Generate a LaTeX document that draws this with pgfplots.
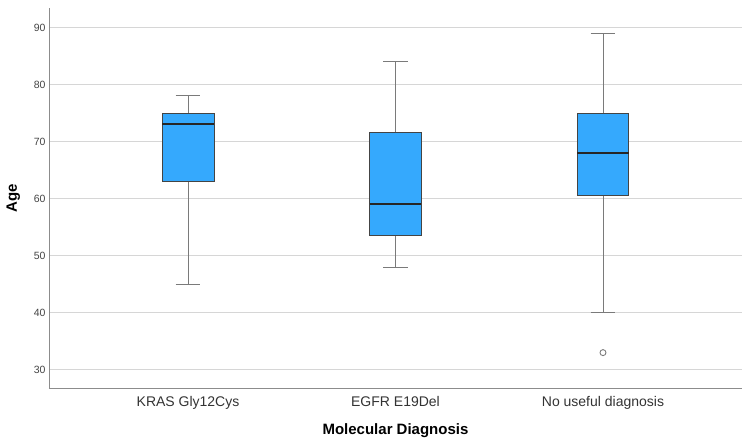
\documentclass[border=0pt]{standalone}
\usepackage{pgfplots}
\pgfplotsset{compat=1.18}
\usepgfplotslibrary{statistics}
\usepackage{fontspec}
\setmainfont{Liberation Sans}

\definecolor{boxblue}{HTML}{35A9FD}
\definecolor{boxedge}{HTML}{444444}
\definecolor{whiskgray}{HTML}{7A7A7A}
\definecolor{gridgray}{HTML}{D6D6D6}
\definecolor{axgray}{HTML}{8C8C8C}
\definecolor{ticktext}{HTML}{444444}

\begin{document}
\begin{tikzpicture}
\useasboundingbox (-49pt,-52pt) rectangle (701pt,388pt);
\begin{axis}[
  at={(0,0)}, anchor=south west,
  scale only axis,
  width=693pt, height=380pt,
  xmin=0.33, xmax=3.67,
  ymin=26.8, ymax=93.4,
  axis lines*=left,
  axis line style={-, draw=axgray, line width=0.9pt},
  xtick={1,2,3},
  xticklabels={KRAS Gly12Cys, EGFR E19Del, No useful diagnosis},
  ytick={30,40,50,60,70,80,90},
  major tick length=0pt,
  ymajorgrids,
  grid style={gridgray, line width=0.9pt},
  /pgf/number format/assume math mode=true,
  yticklabel style={font=\fontsize{10.5}{12}\selectfont, text=ticktext},
  xticklabel style={font=\fontsize{14}{16}\selectfont, text=black!80, yshift=-5pt},
  xlabel={\bfseries Molecular Diagnosis},
  ylabel={\bfseries Age},
  xlabel style={font=\fontsize{15}{17}\selectfont, at={(axis description cs:0.5,0)}, anchor=base, yshift=-46pt},
  ylabel style={font=\fontsize{15}{17}\selectfont, at={(axis description cs:0,0.5)}, anchor=base, yshift=32pt},
  boxplot/draw direction=y,
  boxplot/box extend=0.25,
  boxplot/whisker extend=0.12,
  boxplot/every box/.style={draw=boxedge, fill=boxblue, line width=0.9pt},
  boxplot/every whisker/.style={draw=whiskgray, line width=0.9pt},
  boxplot/every median/.style={draw=black!85, line width=2pt},
  clip=false,
]
% KRAS Gly12Cys
\addplot[boxplot prepared={
    lower whisker=45, lower quartile=63, median=73,
    upper quartile=75, upper whisker=78, draw position=1}]
  coordinates {};
% EGFR E19Del
\addplot[boxplot prepared={
    lower whisker=48, lower quartile=53.6, median=59,
    upper quartile=71.6, upper whisker=84, draw position=2}]
  coordinates {};
% No useful diagnosis, one outlier at 33
\addplot[boxplot prepared={
    lower whisker=40, lower quartile=60.5, median=68,
    upper quartile=75, upper whisker=89, draw position=3},
  mark=o, mark size=3pt, mark options={draw=whiskgray, line width=0.9pt}]
  coordinates {(0,33)};
\end{axis}
\end{tikzpicture}
\end{document}
